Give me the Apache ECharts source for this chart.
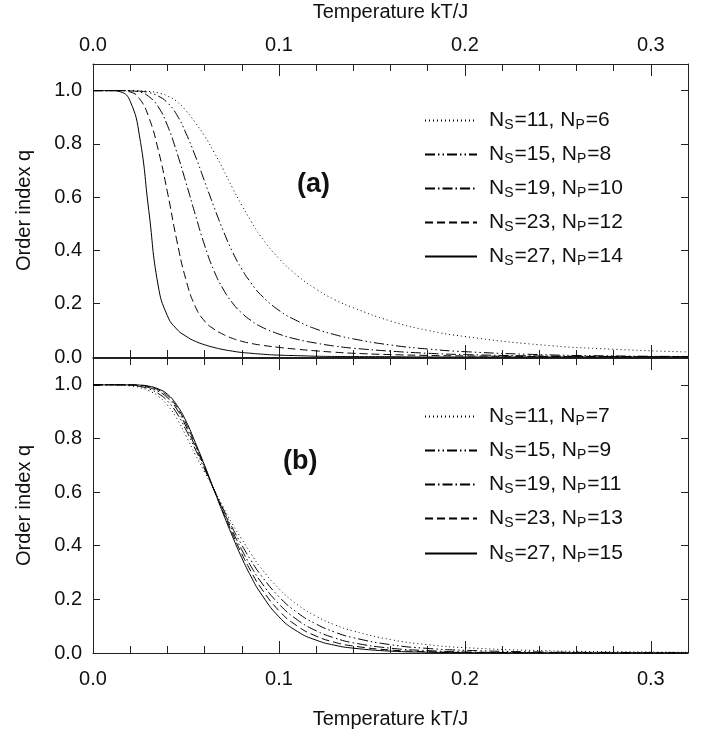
<!DOCTYPE html>
<html><head><meta charset="utf-8">
<script src="https://cdn.jsdelivr.net/npm/echarts@6/dist/echarts.min.js"></script>
<style>html,body{margin:0;padding:0;background:#fff}#c{width:701px;height:733px}</style>
</head><body><div id="c"></div>
<script>
// ---------------- data ----------------
const temps = [0, 0.01, 0.015, 0.02, 0.025, 0.03, 0.035, 0.04, 0.045, 0.05, 0.055, 0.06, 0.065, 0.07, 0.075, 0.08, 0.085, 0.09, 0.1, 0.11, 0.12, 0.13, 0.14, 0.16, 0.18, 0.2, 0.24, 0.28, 0.32];
const nsVals = [11, 15, 19, 23, 27];
const npA = [6, 8, 10, 12, 14];
const npB = [7, 9, 11, 13, 15];
// panel (a)
const qA11 = [1,1,1,1,0.999,0.997,0.992,0.98,0.96,0.925,0.88,0.83,0.77,0.705,0.635,0.57,0.51,0.455,0.37,0.305,0.255,0.215,0.185,0.135,0.1,0.077,0.046,0.029,0.019];
const qA15 = [1,1,1,1,0.998,0.993,0.98,0.955,0.91,0.84,0.755,0.66,0.565,0.475,0.395,0.33,0.278,0.235,0.175,0.135,0.105,0.084,0.068,0.045,0.03,0.02,0.009,0.004,0.002];
const qA19 = [1,1,1,0.999,0.995,0.978,0.94,0.87,0.77,0.655,0.535,0.42,0.325,0.255,0.203,0.165,0.137,0.115,0.086,0.066,0.052,0.041,0.033,0.022,0.014,0.009,0.004,0.002,0.001];
const qA23 = [1,1,1,0.995,0.97,0.9,0.78,0.62,0.44,0.29,0.19,0.135,0.105,0.085,0.07,0.059,0.051,0.045,0.036,0.029,0.023,0.018,0.014,0.009,0.006,0.004,0.002,0.001,0.001];
const qA27 = [1,1,0.995,0.96,0.83,0.55,0.27,0.155,0.105,0.078,0.059,0.046,0.036,0.028,0.022,0.017,0.014,0.011,0.007,0.005,0.003,0.002,0.0015,0.001,0,0,0,0,0];
// panel (b)
const qB11 = [1,1,0.999,0.996,0.99,0.978,0.958,0.925,0.875,0.81,0.74,0.675,0.61,0.545,0.48,0.425,0.37,0.32,0.24,0.18,0.137,0.105,0.082,0.05,0.031,0.02,0.009,0.005,0.003];
const qB15 = [1,1,1,0.998,0.994,0.985,0.968,0.94,0.895,0.832,0.76,0.686,0.61,0.537,0.466,0.403,0.345,0.293,0.21,0.15,0.108,0.078,0.057,0.031,0.017,0.01,0.004,0.002,0.001];
const qB19 = [1,1,1,0.999,0.997,0.99,0.976,0.952,0.91,0.845,0.77,0.692,0.61,0.532,0.455,0.385,0.323,0.268,0.183,0.123,0.083,0.056,0.038,0.018,0.009,0.004,0.001,0,0];
const qB23 = [1,1,1,1,0.998,0.993,0.981,0.959,0.918,0.855,0.778,0.696,0.61,0.526,0.445,0.37,0.304,0.246,0.158,0.1,0.063,0.04,0.026,0.011,0.005,0.002,0.001,0,0];
const qB27 = [1,1,1,1,0.999,0.995,0.985,0.965,0.925,0.865,0.785,0.7,0.61,0.52,0.435,0.355,0.285,0.225,0.135,0.08,0.048,0.029,0.018,0.007,0.003,0.001,0,0,0];
const panelA = [qA11, qA15, qA19, qA23, qA27];
const panelB = [qB11, qB15, qB19, qB23, qB27];
const xLabel = 'Temperature kT/J';
const yLabel = 'Order index q';

// ---------------- styles ----------------
const FONT = 'Liberation Sans, Arial, Helvetica, sans-serif';
const dashes = [[1, 3], [10, 3, 1.5, 3, 1.5, 3], [10, 3, 1.5, 3], [8, 4], 'solid'];
const lineColor = '#000';
const rowsA = [122, 156, 190, 224, 258];
const rowsB = [418, 452, 486, 520, 555];

function nameOf(ns, np) { return 'N_S=' + ns + ', N_P=' + np; }
function pairs(q) { return temps.map((t, i) => [t, q[i]]); }

const series = [];
const legends = [];
[[panelA, npA, 0, 0, rowsA], [panelB, npB, 3, 2, rowsB]].forEach(([qs, nps, xi, yi, rows]) => {
  qs.forEach((q, k) => {
    const nm = nameOf(nsVals[k], nps[k]);
    series.push({
      type: 'line', name: nm, xAxisIndex: xi, yAxisIndex: yi,
      data: pairs(q), showSymbol: false, symbol: 'none', smooth: 0.5,
      lineStyle: { color: lineColor, width: 1, type: dashes[k] }, itemStyle: { color: lineColor },
      clip: true, animation: false, z: 3
    });
    legends.push({
      data: [nm], orient: 'vertical', left: 424, top: rows[k] - 12, padding: 0,
      itemWidth: 52, itemHeight: 14, selectedMode: false,
      itemStyle: { opacity: 0, borderWidth: 0 },
      formatter: function (n) {
        const m = n.match(/N_S=(\d+), N_P=(\d+)/);
        return '{sp|}{n|N}{s|S}{n|=' + m[1] + ', N}{s|P}{n|=' + m[2] + '}';
      },
      textStyle: {
        rich: {
          sp: { width: 7 },
          n: { fontSize: 21, fontFamily: FONT, color: '#111', lineHeight: 24 },
          s: { fontSize: 14, fontFamily: FONT, color: '#111', lineHeight: 10, verticalAlign: 'bottom', padding: [0, 1, 0, 0] }
        }
      }
    });
  });
});

const tickCommon = { show: true, inside: true, length: 12, lineStyle: { color: '#222', width: 1 } };
const minorCommon = { show: true, splitNumber: 5, length: 7, lineStyle: { color: '#222', width: 1 } };
const axLine = { show: true, onZero: false, lineStyle: { color: '#222', width: 1 } };
const xLabelStyle = { fontSize: 20, fontFamily: FONT, color: '#111', formatter: v => v.toFixed(1) };
function xAx(grid, pos, labels) {
  return {
    type: 'value', gridIndex: grid, position: pos, min: 0, max: 0.32, interval: 0.1,
    axisLine: axLine, axisTick: tickCommon, minorTick: minorCommon,
    splitLine: { show: false }, minorSplitLine: { show: false },
    axisLabel: labels ? Object.assign({ margin: pos === 'top' ? 9 : 16, showMaxLabel: false }, xLabelStyle) : { show: false },
    name: labels ? xLabel : '', nameLocation: 'middle', nameGap: pos === 'top' ? 42 : 56,
    nameTextStyle: { fontSize: 20, fontFamily: FONT, color: '#111' }
  };
}
function yAx(grid, pos, labels) {
  return {
    type: 'value', gridIndex: grid, position: pos, min: 0, max: 1.1, interval: 0.2,
    axisLine: axLine, axisTick: { show: true, inside: true, length: 7, lineStyle: { color: '#222', width: 1 } },
    splitLine: { show: false },
    axisLabel: labels ? { fontSize: 20, fontFamily: FONT, color: '#111', margin: 11,
      formatter: v => (v > 1.05 ? '' : v.toFixed(1)) } : { show: false },
    name: labels ? yLabel : '', nameLocation: 'middle', nameGap: 59, nameRotate: 90,
    nameTextStyle: { fontSize: 20, fontFamily: FONT, color: '#111' }
  };
}

const option = {
  backgroundColor: '#fff',
  animation: false,
  grid: [
    { left: 93, top: 64, width: 595, height: 293, show: false },
    { left: 93, top: 358, width: 595, height: 295, show: false }
  ],
  xAxis: [xAx(0, 'bottom', false), xAx(0, 'top', true), xAx(1, 'top', false), xAx(1, 'bottom', true)],
  yAxis: [yAx(0, 'left', true), yAx(0, 'right', false), yAx(1, 'left', true), yAx(1, 'right', false)],
  legend: legends,
  series: series,
  graphic: [
    { type: 'text', left: 297, top: 171, style: { text: '(a)', fontSize: 27, fontWeight: 'bold', fontFamily: FONT, fill: '#111' } },
    { type: 'text', left: 283, top: 448, style: { text: '(b)', fontSize: 27, fontWeight: 'bold', fontFamily: FONT, fill: '#111' } }
  ]
};
const chart = echarts.init(document.getElementById('c'), null, { renderer: 'canvas' });
chart.setOption(option);
</script>
</body></html>
